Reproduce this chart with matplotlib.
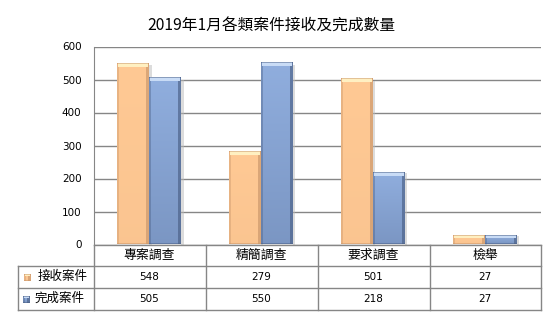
import numpy as np
import matplotlib
matplotlib.use("Agg")
import matplotlib.pyplot as plt
from matplotlib.colors import to_rgb

plt.rcParams['font.family'] = ['Noto Sans CJK TC', 'DejaVu Sans']

title = "2019年1月各類案件接收及完成數量"
categories = ["專案調查", "精簡調查", "要求調查", "檢舉"]
series_names = ["接收案件", "完成案件"]
received = [548, 279, 501, 27]
completed = [505, 550, 218, 27]
y_ticks = [0, 100, 200, 300, 400, 500, 600]

W, H = 555, 327
fig = plt.figure(figsize=(W / 100, H / 100), dpi=100)

# plot area in pixel coordinates
px_left, px_right, px_top, px_bottom = 93.5, 540.5, 46.5, 244.5
ax = fig.add_axes([px_left / W, 1 - px_bottom / H,
                   (px_right - px_left) / W, (px_bottom - px_top) / H])
ax.set_xlim(0, len(categories))
ax.set_ylim(0, 600)
ax.set_yticks(y_ticks)
ax.set_xticks([])
ax.tick_params(axis='y', length=0, pad=8.6, labelsize=7.5)
for lbl in ax.get_yticklabels():
    lbl.set_family(['DejaVu Sans'])
ax.grid(axis='y', color='#868686', linewidth=1)
ax.set_axisbelow(True)
for s in ['top', 'right', 'bottom']:
    ax.spines[s].set_visible(False)
ax.spines['left'].set_color('#868686')

grid_col = '#868686'


def bevel_image(h_px, w_px, base, top, dark, fade):
    """Bevelled bar face: light top edge, shaded sides, vertical fade."""
    base = np.array(to_rgb(base))
    top = np.array(to_rgb(top))
    dark = np.array(to_rgb(dark))
    h_px = max(int(round(h_px)), 2)
    w_px = max(int(round(w_px)), 2)
    yy = np.linspace(0, 1, h_px)[:, None, None]
    img = np.broadcast_to(base * (1 - fade * yy) + dark * (fade * yy),
                          (h_px, w_px, 3)).copy()
    b = max(1, int(min(4, h_px / 3)))
    img[:, :2] = img[:, :2] * 0.6 + dark * 0.4
    img[:, -3:] = img[:, -3:] * 0.35 + dark * 0.65
    img[:b, 1:-1] = top
    img[0, :] = img[0, :] * 0.5 + dark * 0.5
    img[-1, :] = img[-1, :] * 0.5 + dark * 0.5
    return np.clip(img, 0, 1)


styles = [
    dict(base='#FFC994', top='#FFF0C2', dark='#C8956A', fade=0.08),
    dict(base='#90AEDE', top='#C9DCF6', dark='#4A5F85', fade=0.3),
]

bar_w = 0.286
ppu_x = (px_right - px_left) / len(categories)
ppu_y = (px_bottom - px_top) / 600
for si, vals in enumerate([received, completed]):
    st = styles[si]
    for ci, v in enumerate(vals):
        x0 = ci + 0.5 - bar_w + si * bar_w
        # soft shadow on the right
        ax.add_patch(plt.Rectangle((x0 + bar_w, 0), 0.02, v * 0.99,
                                   color='#BBBBBB', alpha=0.5, lw=0, zorder=2))
        img = bevel_image(v * ppu_y, bar_w * ppu_x, **st)
        ax.imshow(img, extent=(x0, x0 + bar_w, 0, v), aspect='auto',
                  interpolation='bilinear', zorder=3)
ax.set_xlim(0, len(categories))
ax.set_ylim(0, 600)

# overlay axes in pixel units for title and data table
ov = fig.add_axes([0, 0, 1, 1])
ov.set_xlim(0, W)
ov.set_ylim(H, 0)
ov.axis('off')

ov.text(271.5, 26, title, ha='center', va='center', fontsize=11.3)

col_x = [93.5, 205.5, 317.5, 429.5, 540.5]
row_y = [244.5, 265.5, 287.5, 309.5]
tbl_left = 17.5

lw = 1
# horizontal lines
ov.plot([col_x[0], col_x[-1]], [row_y[0]] * 2, color=grid_col, lw=lw)
for y in row_y[1:]:
    ov.plot([tbl_left, col_x[-1]], [y, y], color=grid_col, lw=lw)
# vertical lines
for x in col_x:
    ov.plot([x, x], [row_y[0], row_y[-1]], color=grid_col, lw=lw)
ov.plot([tbl_left, tbl_left], [row_y[1], row_y[-1]], color=grid_col, lw=lw)

for ci, cat in enumerate(categories):
    cx = (col_x[ci] + col_x[ci + 1]) / 2
    ov.text(cx, (row_y[0] + row_y[1]) / 2, cat, ha='center', va='center', fontsize=9.3)

key_x = [24, 23]
text_x = [38, 34.5]
for ri, vals in enumerate([received, completed]):
    cy = (row_y[ri + 1] + row_y[ri + 2]) / 2
    for ci, v in enumerate(vals):
        cx = (col_x[ci] + col_x[ci + 1]) / 2
        ov.text(cx, cy, str(v), ha='center', va='center', fontsize=7.5,
                family=['DejaVu Sans'])
    st = styles[ri]
    key = bevel_image(7, 7, **st)
    ov.imshow(key, extent=(key_x[ri], key_x[ri] + 6.5, cy + 4.5, cy - 2),
              aspect='auto', interpolation='bilinear', zorder=3)
    ov.text(text_x[ri], cy, series_names[ri], ha='left', va='center', fontsize=9)

ov.set_xlim(0, W)
ov.set_ylim(H, 0)

fig.savefig("out.png", dpi=100)
